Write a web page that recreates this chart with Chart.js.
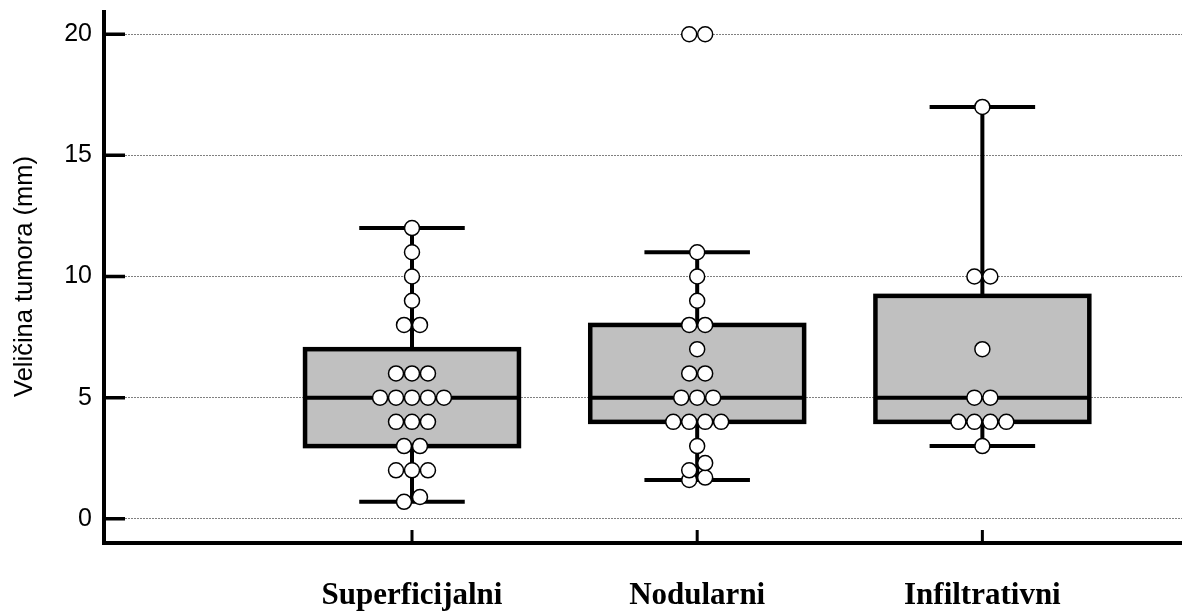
<!DOCTYPE html>
<html>
<head>
<meta charset="utf-8">
<script src="https://cdn.jsdelivr.net/npm/chart.js@4.4.1/dist/chart.umd.min.js"></script>
<style>
  html, body { margin: 0; padding: 0; background: #fff; overflow: hidden; }
  #wrap { width: 1182px; height: 611px; }
  canvas { display: block; }
</style>
</head>
<body>
<div id="wrap"><canvas id="chart"></canvas></div>
<script>
// ── Data ─────────────────────────────────────────────────
const categories = ['Superficijalni', 'Nodularni', 'Infiltrativni'];

const superficijalni = [12, 11, 10, 9, 8, 8, 6, 6, 6, 5, 5, 5, 5, 5, 4, 4, 4, 3, 3, 2, 2, 2, 0.9, 0.7];
const nodularni      = [20, 20, 11, 10, 9, 8, 8, 7, 6, 6, 5, 5, 5, 4, 4, 4, 4, 3, 2.3, 2, 1.7, 1.6];
const infiltrativni  = [17, 10, 10, 7, 5, 5, 4, 4, 4, 4, 3];

const whiskerLow  = [0.7, 1.6, 3];
const q1          = [3, 4, 4];
const median      = [5, 5, 5];
const q3          = [7, 8, 9.2];
const whiskerHigh = [12, 11, 17];

const yTicks = [0, 5, 10, 15, 20];

// ── Style constants ──────────────────────────────────────
const BOX_WIDTH = 0.75;      // x units
const CAP_WIDTH = 0.37;
const SWARM_STEP = 0.056;    // horizontal spacing between dots (x units)
const COLLIDE = 0.65;        // y units, dots closer than this are staggered

// ── Beeswarm layout built from values ────────────────────
function swarm(values, center) {
    const counts = {};
    values.forEach(v => { counts[v] = (counts[v] || 0) + 1; });
    const rows = Object.keys(counts).map(Number).sort((a, b) => a - b)
        .map(v => ({ v: v, n: counts[v] }));

    // consecutive single dots that overlap vertically are staggered left/right
    const pts = [];
    let i = 0;
    while (i < rows.length) {
        if (rows[i].n === 1) {
            let j = i;
            while (j + 1 < rows.length && rows[j + 1].n === 1 && rows[j + 1].v - rows[j].v < COLLIDE) j++;
            if (j > i) {
                for (let k = i; k <= j; k++) {
                    const side = (k - i) % 2 === 0 ? -0.5 : 0.5;
                    pts.push({ x: center + side * SWARM_STEP, y: rows[k].v });
                }
                i = j + 1;
                continue;
            }
        }
        const n = rows[i].n;
        for (let k = 0; k < n; k++) {
            pts.push({ x: center + (k - (n - 1) / 2) * SWARM_STEP, y: rows[i].v });
        }
        i++;
    }
    return pts;
}

const groups = [superficijalni, nodularni, infiltrativni];
const dotData = [];
groups.forEach((g, gi) => dotData.push(...swarm(g, gi + 1)));

// ── Box & whisker plugin ─────────────────────────────────
const boxPlugin = {
    id: 'boxes',
    beforeDatasetsDraw(chart) {
        const ctx = chart.ctx;
        const xs = chart.scales.x, ys = chart.scales.y;
        ctx.save();
        ctx.setLineDash([]);
        categories.forEach((c, i) => {
            const cx = xs.getPixelForValue(i + 1);
            const bl = xs.getPixelForValue(i + 1 - BOX_WIDTH / 2);
            const br = xs.getPixelForValue(i + 1 + BOX_WIDTH / 2);
            const cl = xs.getPixelForValue(i + 1 - CAP_WIDTH / 2);
            const cr = xs.getPixelForValue(i + 1 + CAP_WIDTH / 2);
            const yLo = ys.getPixelForValue(whiskerLow[i]);
            const yQ1 = ys.getPixelForValue(q1[i]);
            const yMd = ys.getPixelForValue(median[i]);
            const yQ3 = ys.getPixelForValue(q3[i]);
            const yHi = ys.getPixelForValue(whiskerHigh[i]);

            ctx.strokeStyle = '#000';
            ctx.lineCap = 'butt';
            // whiskers
            ctx.lineWidth = 4;
            ctx.beginPath();
            ctx.moveTo(cx, yLo); ctx.lineTo(cx, yQ1);
            ctx.moveTo(cx, yQ3); ctx.lineTo(cx, yHi);
            ctx.moveTo(cl, yLo); ctx.lineTo(cr, yLo);
            ctx.moveTo(cl, yHi); ctx.lineTo(cr, yHi);
            ctx.stroke();
            // box
            ctx.fillStyle = '#c0c0c0';
            ctx.fillRect(bl, yQ3, br - bl, yQ1 - yQ3);
            ctx.lineWidth = 4.5;
            ctx.strokeRect(bl, yQ3, br - bl, yQ1 - yQ3);
            // median
            ctx.lineWidth = 4;
            ctx.beginPath();
            ctx.moveTo(bl, yMd); ctx.lineTo(br, yMd);
            ctx.stroke();
        });
        ctx.restore();
    },
    afterDraw(chart) {
        // axis lines and inward tick marks
        const ctx = chart.ctx;
        const xs = chart.scales.x, ys = chart.scales.y;
        const area = chart.chartArea;
        ctx.save();
        ctx.setLineDash([]);
        ctx.strokeStyle = '#000';
        ctx.lineWidth = 4;
        ctx.beginPath();
        ctx.moveTo(area.left, area.top); ctx.lineTo(area.left, area.bottom + 2);
        ctx.moveTo(area.left - 2, area.bottom); ctx.lineTo(area.right, area.bottom);
        ctx.stroke();
        ctx.lineWidth = 3.5;
        ctx.beginPath();
        yTicks.forEach(v => {
            const y = ys.getPixelForValue(v);
            ctx.moveTo(area.left, y); ctx.lineTo(area.left + 21, y);
        });
        ctx.stroke();
        ctx.lineWidth = 3;
        ctx.beginPath();
        categories.forEach((c, i) => {
            const x = xs.getPixelForValue(i + 1);
            ctx.moveTo(x, area.bottom); ctx.lineTo(x, area.bottom - 13);
        });
        ctx.stroke();
        ctx.restore();
    }
};

Chart.defaults.font.family = "'Liberation Sans', Arial, sans-serif";
Chart.defaults.color = '#000';

new Chart(document.getElementById('chart'), {
    type: 'scatter',
    data: {
        datasets: [{
            data: dotData,
            pointRadius: 7.5,
            pointHoverRadius: 7.5,
            pointBackgroundColor: '#fff',
            pointBorderColor: '#000',
            pointBorderWidth: 1.5,
            clip: false
        }]
    },
    options: {
        responsive: true,
        maintainAspectRatio: false,
        animation: false,
        layout: { autoPadding: false, padding: { top: 10, right: 0, bottom: 0, left: 0 } },
        plugins: {
            legend: { display: false },
            tooltip: { enabled: false }
        },
        scales: {
            x: {
                type: 'linear',
                min: -0.08,
                max: 3.7,
                afterBuildTicks: s => { s.ticks = categories.map((c, i) => ({ value: i + 1 })); },
                afterFit: s => { s.height = 68; s.paddingLeft = 0; s.paddingRight = 0; },
                ticks: {
                    autoSkip: false,
                    maxRotation: 0,
                    padding: 34,
                    font: { family: "'Liberation Serif', 'Times New Roman', serif", size: 31, weight: 'bold' },
                    callback: v => categories[v - 1]
                },
                grid: { display: false, drawTicks: false },
                border: { display: false }
            },
            y: {
                min: -1,
                max: 21,
                afterBuildTicks: s => { s.ticks = yTicks.map(v => ({ value: v })); },
                afterFit: s => { s.width = 104; s.paddingTop = 0; s.paddingBottom = 0; },
                ticks: {
                    padding: 12,
                    font: { size: 25 }
                },
                title: {
                    display: true,
                    text: 'Veličina tumora (mm)',
                    font: { size: 25.5 },
                    padding: { top: 10, bottom: 0 }
                },
                grid: {
                    drawTicks: false,
                    color: '#808080',
                    lineWidth: 1
                },
                border: { display: false, dash: [2, 1] }
            }
        }
    },
    plugins: [boxPlugin]
});
</script>
</body>
</html>
